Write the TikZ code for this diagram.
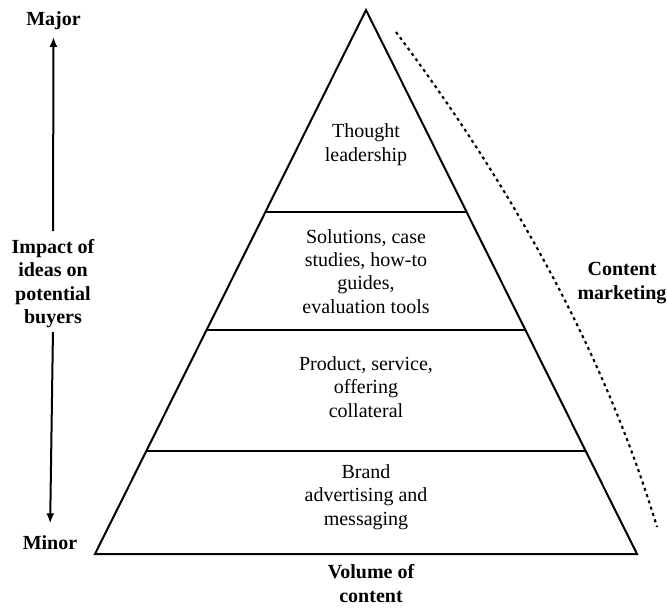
\documentclass[tikz,border=0pt]{standalone}
\usepackage{fontspec}
\setmainfont{Liberation Serif}
\usetikzlibrary{calc,arrows.meta}

\begin{document}
\begin{tikzpicture}[x=1pt,y=-1pt,
  every node/.style={inner sep=0pt,font=\fontsize{20}{23.4}\selectfont},
  layertext/.style={align=center,anchor=base},
  axislabel/.style={align=center,anchor=base,font=\fontsize{20}{23.4}\selectfont\bfseries},
  edge/.style={line width=2pt,line join=miter},
  axisarrow/.style={line width=2pt,-{Latex[length=10pt,width=8pt]}},
  marketingline/.style={line width=2.1pt,dash pattern=on 3pt off 3.6pt}]

\useasboundingbox (0,0) rectangle (667,608);

% pyramid outline
\coordinate (apex) at (366,10);
\coordinate (baseL) at (95,554);
\coordinate (baseR) at (637,554);
\draw[edge] (apex) -- (baseL) -- (baseR) -- cycle;

% layer dividers
\coordinate (divAL) at ($(apex)!0.3713!(baseL)$);
\coordinate (divAR) at ($(apex)!0.3713!(baseR)$);
\coordinate (divBL) at ($(apex)!0.5882!(baseL)$);
\coordinate (divBR) at ($(apex)!0.5882!(baseR)$);
\coordinate (divCL) at ($(apex)!0.8107!(baseL)$);
\coordinate (divCR) at ($(apex)!0.8107!(baseR)$);
\draw[edge] (divAL) -- (divAR);
\draw[edge] (divBL) -- (divBR);
\draw[edge] (divCL) -- (divCR);

% layer texts (anchored at the baseline of their last line)
\node[layertext] (thought) at (366,161) {Thought\\leadership};
\node[layertext] (solutions) at (366,313.3) {Solutions, case\\studies, how-to\\guides,\\evaluation tools};
\node[layertext] (product) at (366,417.3) {Product, service,\\offering\\collateral};
\node[layertext] (brand) at (366,525) {Brand\\advertising and\\messaging};

% vertical axis
\node[axislabel] (major) at (53.5,25) {Major};
\node[axislabel] (minor) at (50,549) {Minor};
\node[axislabel] (impact) at (53,323.5) {Impact of\\ideas on\\potential\\buyers};
\draw[axisarrow,shorten <=8pt,shorten >=7.5pt] (impact.north) -- (major.south);
\draw[axisarrow,shorten <=4pt,shorten >=11.5pt] (impact.south) -- (minor.north);

% horizontal axis label
\node[axislabel] (volume) at (371,602) {Volume of\\content};

% content marketing span
\coordinate (cmtop) at (396,32);
\coordinate (cmbot) at (657,527);
\draw[marketingline] (cmtop) .. controls (520.7,198.7) and (607.7,363.7) .. (cmbot);
\node[axislabel] (content) at (622,299) {Content\\marketing};

\end{tikzpicture}
\end{document}
